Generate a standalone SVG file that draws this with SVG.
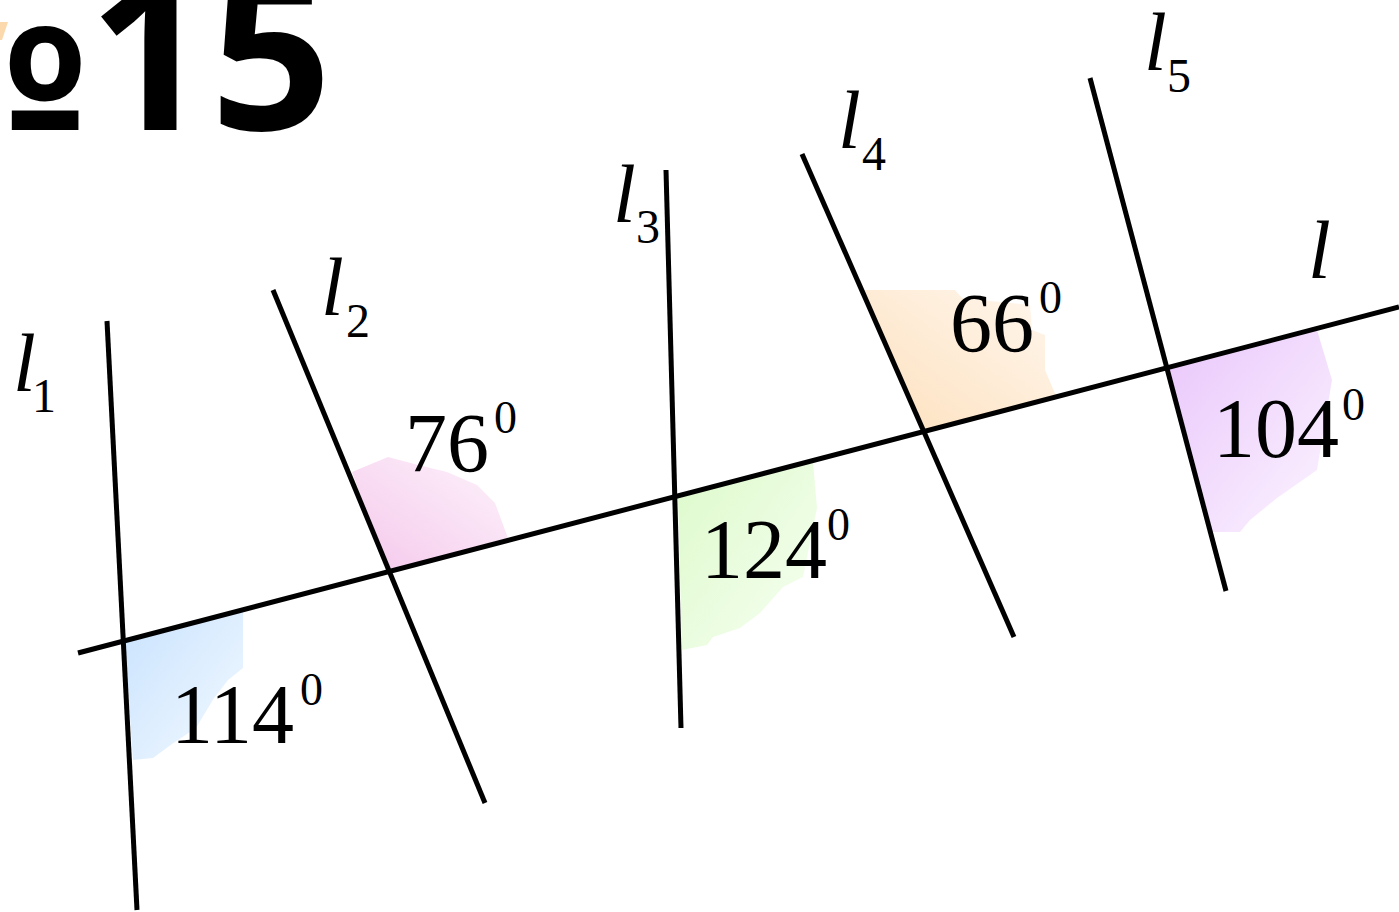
<svg xmlns="http://www.w3.org/2000/svg" width="1399" height="912" viewBox="0 0 1399 912">
<style>
.ln{stroke:#000;stroke-width:5;fill:none}
.num{font-family:"Liberation Serif","Times New Roman",serif;font-size:84px;fill:#000}
.sup{font-family:"Liberation Serif","Times New Roman",serif;font-size:46px;fill:#000}
.lab{font-family:"Liberation Serif","Times New Roman",serif;font-style:italic;font-size:82px;fill:#000}
.sub{font-family:"Liberation Serif","Times New Roman",serif;font-size:48px;fill:#000}
.hdr{font-family:"Open Sans","Noto Sans",sans-serif;font-weight:700;font-size:213px;fill:#000}
</style>
<defs>
<linearGradient id="gBlue" x1="0" y1="0" x2="1" y2="1"><stop offset="0" stop-color="#c9e3fe"/><stop offset="1" stop-color="#f3f9ff"/></linearGradient>
<linearGradient id="gPink" x1="0" y1="1" x2="1" y2="0"><stop offset="0" stop-color="#f5c8ec"/><stop offset="1" stop-color="#fdf3fb"/></linearGradient>
<linearGradient id="gGreen" x1="0" y1="0" x2="1" y2="1"><stop offset="0" stop-color="#ddfacb"/><stop offset="1" stop-color="#f7fff2"/></linearGradient>
<linearGradient id="gOrange" x1="0" y1="1" x2="1" y2="0"><stop offset="0" stop-color="#fde0bd"/><stop offset="1" stop-color="#fff7ee"/></linearGradient>
<linearGradient id="gPurple" x1="0" y1="0" x2="1" y2="1"><stop offset="0" stop-color="#e9c6fb"/><stop offset="1" stop-color="#fcf4ff"/></linearGradient>
</defs>
<rect width="1399" height="912" fill="#fff"/>
<g id="header">
<polygon points="0,22 8,22 2,40 0,40" fill="#fcd8ad"/>
<text class="hdr" x="88.5" y="130" text-anchor="end">№</text>
<text class="hdr" x="88.5" y="130">15</text>
</g>
<g id="angles">
<polygon id="a114" fill="url(#gBlue)" points="125,642 243,611 243,668 228,680 214,698 196,728 172,744 153,758 133,760"/>
<polygon id="a76" fill="url(#gPink)" points="388,570 352,472 388,457 418,465 447,472 477,485 495,503 508,538"/>
<polygon id="a124" fill="url(#gGreen)" points="678,497 813,462 817,508 803,577 783,587 760,613 740,628 713,637 707,645 682,650"/>
<polygon id="a66" fill="url(#gOrange)" points="924,431 863,290 955,290 962,298 1030,305 1032,330 1045,335 1045,370 1056,396"/>
<polygon id="a104" fill="url(#gPurple)" points="1168,368 1317,330 1332,380 1317,470 1277,498 1250,520 1240,532 1211,532"/>
</g>
<g id="connectors">
<line id="l" class="ln" x1="78" y1="653" x2="1399" y2="307"/>
<line id="l1" class="ln" x1="107" y1="321" x2="137" y2="910"/>
<line id="l2" class="ln" x1="273" y1="290" x2="485" y2="803"/>
<line id="l3" class="ln" x1="666" y1="170" x2="681" y2="728"/>
<line id="l4" class="ln" x1="802" y1="154" x2="1014" y2="637"/>
<line id="l5" class="ln" x1="1090" y1="78" x2="1226" y2="591"/>
</g>
<g id="line-labels">
<text class="lab" x="13" y="391">l</text><text class="sub" x="32" y="412">1</text>
<text class="lab" x="321" y="315">l</text><text class="sub" x="346" y="337">2</text>
<text class="lab" x="613" y="222">l</text><text class="sub" x="636" y="243">3</text>
<text class="lab" x="838" y="148">l</text><text class="sub" x="862" y="170">4</text>
<text class="lab" x="1144" y="70">l</text><text class="sub" x="1167" y="92">5</text>
<text class="lab" x="1308" y="278">l</text>
</g>
<g id="angle-labels">
<text class="num" x="171" y="743">114</text><text class="sup" x="300" y="705">0</text>
<text class="num" x="405" y="472">76</text><text class="sup" x="494" y="433">0</text>
<text class="num" x="701" y="578">124</text><text class="sup" x="827" y="540">0</text>
<text class="num" x="950" y="352">66</text><text class="sup" x="1039" y="313">0</text>
<text class="num" x="1213" y="457">104</text><text class="sup" x="1342" y="420">0</text>
</g>
</svg>
